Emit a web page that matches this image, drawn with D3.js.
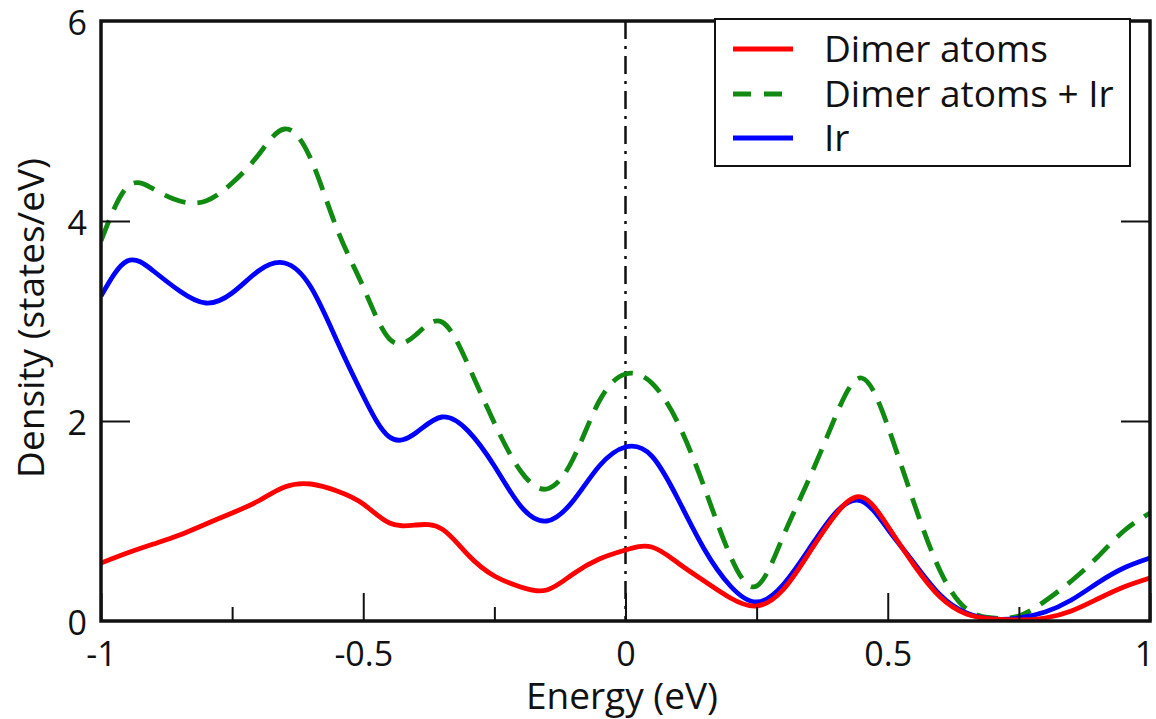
<!DOCTYPE html>
<html>
<head>
<meta charset="utf-8">
<script src="https://cdn.jsdelivr.net/npm/d3@7"></script>
<style>
  html, body { margin: 0; padding: 0; background: #fff; }
  svg { display: block; }
  text { font-family: "Open Sans", sans-serif; fill: #111; }
</style>
</head>
<body>
<svg id="chart" width="1156" height="719"></svg>
<script>
const energy = [-1.00,-0.95,-0.90,-0.85,-0.80,-0.75,-0.70,-0.65,-0.60,-0.55,-0.50,-0.45,-0.40,-0.35,-0.30,-0.25,-0.20,-0.15,-0.10,-0.05,
  0.00,0.05,0.10,0.15,0.20,0.25,0.30,0.35,0.40,0.45,0.50,0.55,0.60,0.65,0.70,0.75,0.80,0.85,0.90,0.95,1.00];

const dimerAtoms = [0.58,0.68,0.77,0.86,0.97,1.08,1.20,1.34,1.37,1.30,1.17,0.98,0.96,0.92,0.66,0.45,0.34,0.31,0.47,0.62,
  0.71,0.74,0.58,0.40,0.23,0.15,0.31,0.68,1.06,1.24,0.95,0.56,0.24,0.07,0.02,0.01,0.03,0.10,0.22,0.34,0.43];

const dimerAtomsIr = [3.80,4.34,4.32,4.20,4.20,4.38,4.66,4.92,4.62,3.92,3.34,2.82,2.86,2.99,2.56,1.98,1.50,1.32,1.62,2.20,
  2.47,2.38,1.98,1.34,0.65,0.35,0.84,1.42,2.04,2.43,1.95,1.18,0.50,0.12,0.03,0.05,0.20,0.40,0.64,0.90,1.08];

const ir = [3.25,3.60,3.50,3.30,3.18,3.28,3.50,3.58,3.34,2.80,2.25,1.84,1.88,2.04,1.90,1.55,1.15,1.00,1.20,1.55,
  1.74,1.65,1.22,0.72,0.35,0.19,0.36,0.72,1.08,1.20,0.92,0.58,0.26,0.08,0.02,0.03,0.09,0.21,0.38,0.53,0.63];

const seriesNames = ["Dimer atoms", "Dimer atoms + Ir", "Ir"];
const seriesColors = ["#ff0000", "#118a11", "#0000ff"];
const seriesDash = [null, "22,12", null];
const seriesValues = [dimerAtoms, dimerAtomsIr, ir];

const xTickLabels = [-1, -0.5, 0, 0.5, 1];
const xMinorTicks = [-0.75, -0.25, 0.25, 0.75];
const yTickLabels = [0, 2, 4, 6];

const L = 101, R = 1150, T = 21, B = 621;
const svg = d3.select("#chart");
const x = d3.scaleLinear().domain([-1, 1]).range([L, R]);
const y = d3.scaleLinear().domain([0, 6]).range([B, T]);

svg.append("defs").append("clipPath").attr("id", "clip")
  .append("rect").attr("x", L).attr("y", T).attr("width", R - L).attr("height", B - T);

// Fermi level dash-dot line
svg.append("line")
  .attr("x1", x(0)).attr("x2", x(0)).attr("y1", y(6)).attr("y2", y(0))
  .attr("stroke", "#111").attr("stroke-width", 2.5)
  .attr("stroke-dasharray", "18,7,3,7");

// curves
const line = d3.line().x((d, i) => x(energy[i])).y(d => y(d)).curve(d3.curveNatural);
const g = svg.append("g").attr("clip-path", "url(#clip)");
[1, 2, 0].forEach(k => {
  g.append("path").datum(seriesValues[k])
    .attr("d", line)
    .attr("fill", "none")
    .attr("stroke", seriesColors[k])
    .attr("stroke-width", 4.8)
    .attr("stroke-dasharray", seriesDash[k]);
});

// axes: bottom ticks pointing up (inner)
const fmtX = d => d === 0 ? "0" : (d < 0 ? "-" + Math.abs(d) : String(d));
const xMajor = d3.axisBottom(x).tickValues(xTickLabels).tickSize(-28).tickSizeOuter(0)
  .tickFormat(fmtX).tickPadding(0);
const gx = svg.append("g").attr("transform", `translate(0,${B})`).call(xMajor);
gx.select(".domain").remove();
gx.selectAll(".tick line").attr("stroke", "#111").attr("stroke-width", 2);
gx.selectAll(".tick text").attr("y", 0).attr("dy", "1.32em").style("font-size", "34px")
  .attr("fill", "#111")
  .attr("x", d => d === 1 ? -6 : 0);

const xMin = d3.axisBottom(x).tickValues(xMinorTicks).tickSize(-14).tickFormat("");
const gxm = svg.append("g").attr("transform", `translate(0,${B})`).call(xMin);
gxm.select(".domain").remove();
gxm.selectAll(".tick line").attr("stroke", "#111").attr("stroke-width", 2);

const yAx = d3.axisLeft(y).tickValues(yTickLabels).tickSize(-29).tickPadding(0).tickFormat(d3.format("d"));
const gy = svg.append("g").attr("transform", `translate(${L},0)`).call(yAx);
gy.select(".domain").remove();
gy.selectAll(".tick line").attr("stroke", "#111").attr("stroke-width", 2);
gy.selectAll(".tick text").attr("x", -14).attr("dy", "0.40em").style("font-size", "34px").attr("fill", "#111");
gy.selectAll(".tick").filter(d => d === 0 || d === 6).select("line").remove();

const yAxR = d3.axisRight(y).tickValues([2, 4]).tickSize(-29).tickFormat("");
const gyr = svg.append("g").attr("transform", `translate(${R},0)`).call(yAxR);
gyr.select(".domain").remove();
gyr.selectAll(".tick line").attr("stroke", "#111").attr("stroke-width", 2);

// frame
svg.append("rect").attr("x", L).attr("y", T).attr("width", R - L).attr("height", B - T)
  .attr("fill", "none").attr("stroke", "#111").attr("stroke-width", 3.5);

// axis titles
svg.append("text").attr("x", 622).attr("y", 709).attr("text-anchor", "middle")
  .style("font-size", "37px").text("Energy (eV)");
svg.append("text").attr("transform", `translate(44,318) rotate(-90)`).attr("text-anchor", "middle")
  .style("font-size", "37px").text("Density (states/eV)");

// legend
const leg = svg.append("g");
leg.append("rect").attr("x", 715).attr("y", 19).attr("width", 415).attr("height", 147)
  .attr("fill", "#fff").attr("stroke", "#111").attr("stroke-width", 2);
const rowsY = [49, 94, 138];
seriesNames.forEach((name, k) => {
  leg.append("line").attr("x1", 733).attr("x2", 793).attr("y1", rowsY[k]).attr("y2", rowsY[k])
    .attr("stroke", seriesColors[k]).attr("stroke-width", 4.8)
    .attr("stroke-dasharray", k === 1 ? "18,13" : null);
  leg.append("text").attr("x", 824).attr("y", rowsY[k] + 13)
    .style("font-size", "37px").text(name);
});
</script>
</body>
</html>
